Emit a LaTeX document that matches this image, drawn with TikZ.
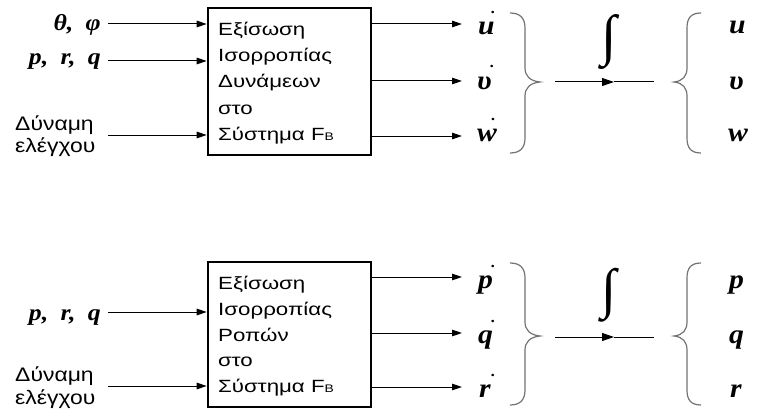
\documentclass[tikz,border=0pt]{standalone}
\usepackage{fontspec}
\usetikzlibrary{arrows.meta}
\setmainfont{Liberation Sans}
\newfontfamily\symfont{Liberation Serif}
\newfontfamily\intfont{Liberation Serif}
% horizontally widened text
\newcommand\wideby[2]{\scalebox{#1}[1]{#2}}
% letter with a dot above it (time derivative)
\newcommand\dotover[2]{\rlap{\kern#1\raisebox{21pt}{\fontsize{15}{15}\selectfont .}}#2}
% subscript B of the frame name
\newcommand\fbsub{F{\fontsize{11}{11}\selectfont B}}
\definecolor{bracegray}{RGB}{115,115,115}
\tikzset{
  blk/.style={draw, line width=2.6pt, minimum width=163pt, inner sep=0pt},
  boxtxt/.style={font=\fontsize{17.7}{20}\selectfont, anchor=base west, inner sep=0pt},
  labtxt/.style={font=\fontsize{19.6}{22}\selectfont, anchor=base west, inner sep=0pt},
  inlab/.style={font=\symfont\bfseries\itshape\fontsize{23}{25}\selectfont, anchor=base east, inner sep=0pt},
  outlab/.style={font=\symfont\bfseries\itshape\fontsize{27}{30}\selectfont, anchor=base west, inner sep=0pt},
  intsign/.style={inner sep=0pt},
  arr/.style={line width=1pt, -{Triangle[length=10pt,width=6.5pt]}},
  midarr/.style={line width=1pt, -{Triangle[length=12pt,width=8pt]}},
  plain/.style={line width=1pt},
  brace/.style={draw=bracegray, line width=1.2pt},
}
\begin{document}
\begin{tikzpicture}[x=1pt, y=-1pt]
\useasboundingbox[fill=white] (0,0) rectangle (761,412);

%%%%%%%%%%%%%%%% force balance %%%%%%%%%%%%%%%%
\node[blk, minimum height=147pt] (box1) at (289.5,81.5) {};
\foreach \t [count=\i] in {Εξίσωση, Ισορροπίας, Δυνάμεων, στο, {Σύστημα \fbsub}}
  \node[boxtxt] (b1l\i) at (218,{10+26*\i}) {\wideby{1.26}{\t}};

\coordinate (i11) at (108,24);
\coordinate (i12) at (108,61);
\coordinate (i13) at (108,135);
\node[inlab] (l11) at (101,31) {\wideby{1.12}{θ,\hspace{11pt}φ}};
\node[inlab] (l12) at (101,65) {\wideby{1.12}{p,\hspace{11pt}r,\hspace{11pt}q}};
\node[labtxt] (l13a) at (15,131) {\wideby{1.17}{Δύναμη}};
\node[labtxt] (l13b) at (15,153) {\wideby{1.17}{ελέγχου}};
\foreach \k in {1,2,3} \draw[arr] (i1\k) -- (i1\k -| box1.west);

\coordinate (o11) at (462,24);
\coordinate (o12) at (462,81);
\coordinate (o13) at (462,136);
\foreach \k in {1,2,3} \draw[arr] (o1\k -| box1.east) -- (o1\k);
\node[outlab] (d11) at (478,35) {\wideby{1.1}{\dotover{12pt}{u}}};
\node[outlab] (d12) at (477,89) {\wideby{1.1}{\dotover{12pt}{υ}}};
\node[outlab] (d13) at (477,142) {\wideby{1.1}{\dotover{13pt}{w}}};

\draw[brace] (510,13) .. controls (520,13) and (525,18) .. (525,28) -- (525,68)
  .. controls (525,76) and (530,81) .. (540,82)
  .. controls (530,83) and (525,88) .. (525,96) -- (525,138)
  .. controls (525,148) and (520,153) .. (510,153);
\draw[brace] (701,13) .. controls (691,13) and (687,18) .. (687,28) -- (687,68)
  .. controls (687,76) and (683,81) .. (674,82)
  .. controls (683,83) and (687,88) .. (687,96) -- (687,138)
  .. controls (687,148) and (691,153) .. (701,153);

\coordinate (m1s) at (555,82);
\coordinate (m1t) at (614,82);
\coordinate (m1e) at (654,82);
\draw[midarr] (m1s) -- (m1t);
\draw[plain] (m1t) -- (m1e);
\node[intsign] (int1) at (609,42.5) {\resizebox*{!}{55pt}{\intfont\bfseries ∫}};

\node[outlab] (r11) at (729,34) {\wideby{1.1}{u}};
\node[outlab] (r12) at (729,89) {\wideby{1.1}{υ}};
\node[outlab] (r13) at (728,142) {\wideby{1.1}{w}};

%%%%%%%%%%%%%%%% moment balance %%%%%%%%%%%%%%%%
\node[blk, minimum height=145pt] (box2) at (289.5,334.5) {};
\foreach \t [count=\i] in {Εξίσωση, Ισορροπίας, Ροπών, στο, {Σύστημα \fbsub}}
  \node[boxtxt] (b2l\i) at (218,{264+25.7*\i}) {\wideby{1.26}{\t}};

\coordinate (i22) at (108,312);
\coordinate (i23) at (108,386);
\node[inlab] (l22) at (101,320) {\wideby{1.12}{p,\hspace{11pt}r,\hspace{11pt}q}};
\node[labtxt] (l23a) at (15,381) {\wideby{1.17}{Δύναμη}};
\node[labtxt] (l23b) at (15,404) {\wideby{1.17}{ελέγχου}};
\foreach \k in {2,3} \draw[arr] (i2\k) -- (i2\k -| box2.west);

\coordinate (o21) at (462,277);
\coordinate (o22) at (462,333);
\coordinate (o23) at (462,387);
\foreach \k in {1,2,3} \draw[arr] (o2\k -| box2.east) -- (o2\k);
\node[outlab] (d21) at (478,288) {\wideby{1.1}{\dotover{12pt}{p}}};
\node[outlab] (d22) at (478,343) {\wideby{1.1}{\dotover{12pt}{q}}};
\node[outlab] (d23) at (479,397) {\wideby{1.1}{\dotover{11pt}{r}}};

\draw[brace] (510,263) .. controls (520,263) and (525,268) .. (525,278) -- (525,322)
  .. controls (525,330) and (530,335) .. (540,336)
  .. controls (530,337) and (525,342) .. (525,350) -- (525,390)
  .. controls (525,400) and (520,405) .. (510,405);
\draw[brace] (701,263) .. controls (691,263) and (687,268) .. (687,278) -- (687,322)
  .. controls (687,330) and (683,335) .. (674,336)
  .. controls (683,337) and (687,342) .. (687,350) -- (687,390)
  .. controls (687,400) and (691,405) .. (701,405);

\coordinate (m2s) at (555,337);
\coordinate (m2t) at (614,337);
\coordinate (m2e) at (654,337);
\draw[midarr] (m2s) -- (m2t);
\draw[plain] (m2t) -- (m2e);
\node[intsign] (int2) at (609,295) {\resizebox*{!}{54pt}{\intfont\bfseries ∫}};

\node[outlab] (r21) at (729,288) {\wideby{1.1}{p}};
\node[outlab] (r22) at (729,343) {\wideby{1.1}{q}};
\node[outlab] (r23) at (730,397) {\wideby{1.1}{r}};
\end{tikzpicture}
\end{document}
